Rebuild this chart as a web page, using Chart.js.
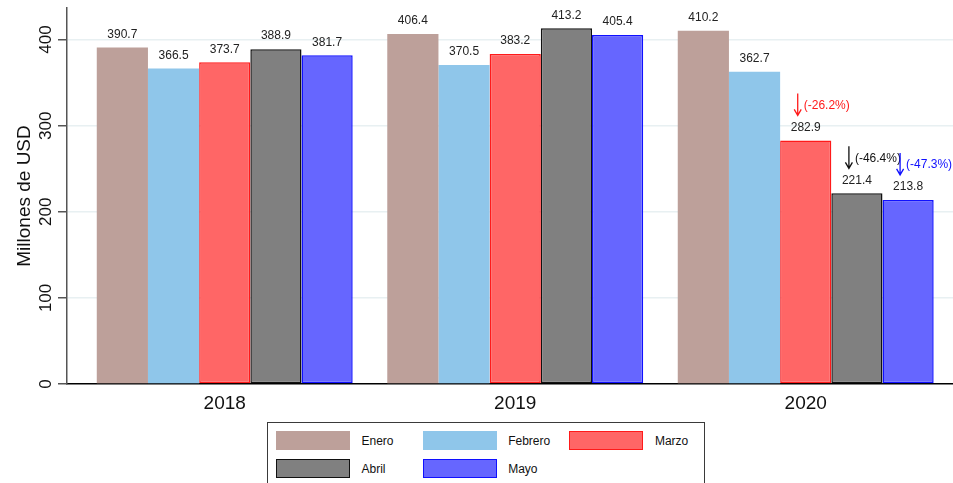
<!DOCTYPE html>
<html>
<head>
<meta charset="utf-8">
<script src="https://cdn.jsdelivr.net/npm/chart.js@4.4.1/dist/chart.umd.min.js"></script>
<style>
  html, body { margin: 0; padding: 0; background: #ffffff; overflow: hidden; }
  #wrap { position: relative; width: 953px; height: 483px; overflow: hidden; background: #fff; }
  #c { position: absolute; left: 0; top: 0; }
  #legend {
    position: absolute; left: 266.5px; top: 422px; width: 438px; height: 80px;
    border: 1px solid #3a3a3a; box-sizing: border-box; background: #fff;
    font-family: "Liberation Sans", Arial, sans-serif; font-size: 12px; color: #111;
  }
  .item { position: absolute; height: 19px; display: flex; align-items: center; }
  .sw { width: 74px; height: 19px; box-sizing: border-box; }
  .lb { margin-left: 11.5px; white-space: nowrap; }
</style>
</head>
<body>
<div id="wrap">
  <canvas id="c" width="953" height="483"></canvas>
  <div id="legend"></div>
</div>
<script>
// ---- data ----
const years = ['2018', '2019', '2020'];
const meses = ['Enero', 'Febrero', 'Marzo', 'Abril', 'Mayo'];
const enero   = [390.7, 406.4, 410.2];
const febrero = [366.5, 370.5, 362.7];
const marzo   = [373.7, 383.2, 282.9];
const abril   = [388.9, 413.2, 221.4];
const mayo    = [381.7, 405.4, 213.8];
const variacion2020 = ['', '', '(-26.2%)', '(-46.4%)', '(-47.3%)'];
const yTicks = [0, 100, 200, 300, 400];

const series = [enero, febrero, marzo, abril, mayo];
const fills   = ['#bda09a', '#8fc6ea', '#ff6666', '#808080', '#6666ff'];
const borders = ['#bda09a', '#8fc6ea', '#ff1a1a', '#111111', '#1010ff'];
const bw      = [0, 0, 1.5, 1.5, 1.5];

const datasets = series.map((vals, i) => ({
  label: meses[i],
  data: vals.map((v, j) => ({ x: j, y: v })),
  backgroundColor: fills[i],
  borderColor: borders[i],
  borderWidth: bw[i],
  borderSkipped: false,
  categoryPercentage: 0.881,
  barPercentage: 1.0
}));

const FONT = '"Liberation Sans", Arial, sans-serif';

const labelPlugin = {
  id: 'valueLabels',
  afterDatasetsDraw(chart) {
    const ctx = chart.ctx;
    ctx.save();
    ctx.font = '12px ' + FONT;
    ctx.textAlign = 'center';
    ctx.textBaseline = 'middle';
    ctx.fillStyle = '#222';
    chart.data.datasets.forEach((ds, di) => {
      const meta = chart.getDatasetMeta(di);
      meta.data.forEach((bar, j) => {
        ctx.fillText(series[di][j].toFixed(1), bar.x, bar.y - 13);
      });
    });
    // 2020 variation annotations
    const last = years.length - 1;
    chart.data.datasets.forEach((ds, di) => {
      const txt = variacion2020[di];
      if (!txt) return;
      const bar = chart.getDatasetMeta(di).data[last];
      const col = borders[di];
      const ax = bar.x - 8;
      const y0 = bar.y - 47, y1 = bar.y - 25;
      ctx.strokeStyle = col;
      ctx.lineWidth = 1.3;
      ctx.beginPath();
      ctx.moveTo(ax, y0); ctx.lineTo(ax, y1);
      ctx.moveTo(ax - 3.5, y1 - 6); ctx.lineTo(ax, y1); ctx.lineTo(ax + 3.5, y1 - 6);
      ctx.stroke();
      ctx.fillStyle = col;
      ctx.textAlign = 'left';
      ctx.fillText(txt, ax + 6, bar.y - 35);
    });
    ctx.restore();
  }
};

const chart = new Chart(document.getElementById('c'), {
  type: 'bar',
  data: { datasets },
  plugins: [labelPlugin],
  options: {
    responsive: false,
    animation: false,
    layout: { padding: { top: 8, right: 0, left: 0, bottom: 0 } },
    plugins: { legend: { display: false }, tooltip: { enabled: false } },
    scales: {
      x: {
        type: 'linear',
        offset: false,
        min: -0.543,
        max: 2.507,
        afterBuildTicks: (s) => { s.ticks = years.map((_, i) => ({ value: i })); },
        afterFit: (s) => { s.height = 99; s.paddingRight = 0; s.paddingLeft = 0; },
        grid: { display: false, drawTicks: false, offset: false },
        border: { display: true, color: '#000', width: 1.5 },
        ticks: {
          padding: 8,
          color: '#111',
          font: { family: FONT, size: 19 },
          callback: (v) => years[v] ?? ''
        }
      },
      y: {
        min: 0,
        max: 436.7,
        afterBuildTicks: (s) => { s.ticks = yTicks.map(v => ({ value: v })); },
        afterFit: (s) => { s.width = 67; s.paddingTop = 0; s.paddingBottom = 0; },
        grid: {
          color: (c) => (c.tick && c.tick.value === 0) ? 'rgba(0,0,0,0)' : '#e8f0f2',
          lineWidth: 1.5,
          tickColor: '#555',
          tickLength: 9,
          drawTicks: true
        },
        border: { display: true, color: '#555', width: 1.5 },
        ticks: {
          minRotation: 90,
          maxRotation: 90,
          crossAlign: 'center',
          padding: -2,
          color: '#111',
          font: { family: FONT, size: 17 }
        },
        title: {
          display: true,
          text: 'Millones de USD',
          color: '#111',
          font: { family: FONT, size: 19, lineHeight: 1.2 },
          padding: { top: 13, bottom: 0 }
        }
      }
    }
  }
});

// HTML legend built from chart datasets
const leg = document.getElementById('legend');
chart.data.datasets.forEach((ds, i) => {
  const col = i % 3, row = Math.floor(i / 3);
  const it = document.createElement('div');
  it.className = 'item';
  it.style.left = (8.5 + col * 146.7) + 'px';
  it.style.top = (8 + row * 28.3) + 'px';
  const sw = document.createElement('div');
  sw.className = 'sw';
  sw.style.background = ds.backgroundColor;
  sw.style.border = ds.borderWidth ? (ds.borderWidth + 'px solid ' + ds.borderColor) : 'none';
  const lb = document.createElement('span');
  lb.className = 'lb';
  lb.textContent = ds.label;
  it.appendChild(sw); it.appendChild(lb);
  leg.appendChild(it);
});
</script>
</body>
</html>
